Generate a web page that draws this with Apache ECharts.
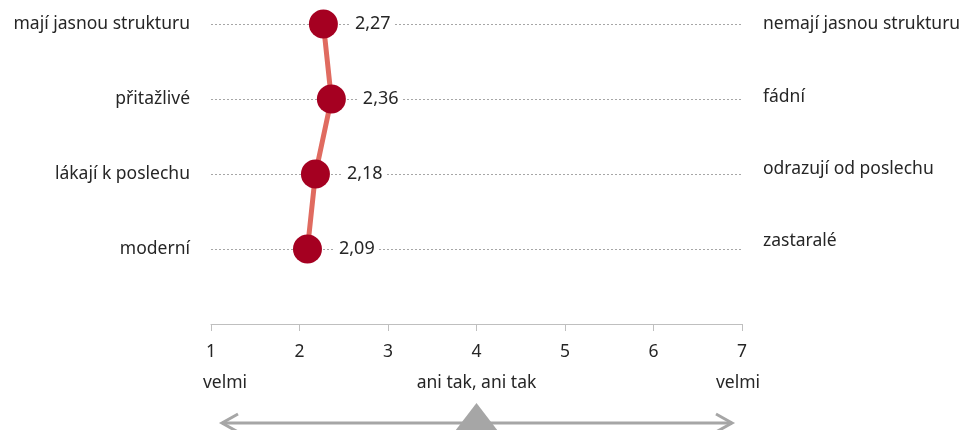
<!DOCTYPE html>
<html><head><meta charset="utf-8">
<script src="https://cdn.jsdelivr.net/npm/echarts@6/dist/echarts.min.js"></script>
<style>html,body{margin:0;padding:0;background:#fff}#c{width:971px;height:430px}</style>
</head><body><div id="c"></div>
<script>
const leftLabels = ['mají jasnou strukturu', 'přitažlivé', 'lákají k poslechu', 'moderní'];
const rightLabels = ['nemají jasnou strukturu', 'fádní', 'odrazují od poslechu', 'zastaralé'];
const values = [2.27, 2.36, 2.18, 2.09];
const xTicks = [1, 2, 3, 4, 5, 6, 7];
const scaleNotes = [[1, 'velmi'], [4, 'ani tak, ani tak'], [7, 'velmi']];

const n = leftLabels.length;
const rowVal = i => n - i; // top row = n
const FONT = 'Noto Sans';
const FS = 17.5;
const rightRich = {};
[0, 4, 10, 16].forEach((pb, i) => { rightRich['r' + i] = { padding: [0, 0, pb, 0], fontSize: FS, color: '#262626', fontFamily: FONT }; });
const chart = echarts.init(document.getElementById('c'));
const opt = {
  animation: false,
  textStyle: { fontFamily: FONT },
  grid: { left: 211, right: 229, top: 24, bottom: 106, containLabel: false },
  xAxis: {
    type: 'value', min: 1, max: 7, interval: 1,
    axisLine: { show: true, lineStyle: { color: '#BFBFBF', width: 1 } },
    axisTick: { show: true, inside: false, length: 7, lineStyle: { color: '#BFBFBF' } },
    axisLabel: { margin: 19, fontSize: FS, color: '#262626', fontFamily: FONT },
    splitLine: { show: false }
  },
  yAxis: [{
    type: 'value', min: 0, max: n, interval: 1, position: 'left',
    axisLine: { show: false }, axisTick: { show: false },
    axisLabel: { margin: 21, fontSize: FS, color: '#262626', fontFamily: FONT,
      formatter: v => (v >= 1 ? leftLabels[n - v] : '') },
    splitLine: { show: true, lineStyle: { type: [2, 2], color: '#A6A6A6', width: 1 } }
  }, {
    type: 'value', min: 0, max: n, interval: 1, position: 'right',
    axisLine: { show: false }, axisTick: { show: false },
    axisLabel: { margin: 21, fontSize: FS, color: '#262626', fontFamily: FONT, align: 'left',
      rich: rightRich,
      formatter: v => (v >= 1 ? '{r' + (n - v) + '|' + rightLabels[n - v] + '}' : '') },
    splitLine: { show: false }
  }],
  series: [{
    type: 'line',
    data: values.map((v, i) => [v, rowVal(i)]),
    clip: false,
    symbol: 'circle', symbolSize: 29,
    itemStyle: { color: '#A50021' },
    lineStyle: { color: '#E06B60', width: 5 },
    z: 5,
    label: {
      show: true, position: 'right', distance: 13,
      fontSize: 18, color: '#262626', fontFamily: FONT,
      backgroundColor: '#fff', padding: [0, 4],
      formatter: p => p.value[0].toFixed(2).replace('.', ',')
    }
  }]
};
chart.setOption(opt);

const px = v => chart.convertToPixel({ xAxisIndex: 0 }, v);
const yAxisLine = chart.convertToPixel({ yAxisIndex: 0 }, 0);
const noteY = yAxisLine + 59;
const arrowY = 423;
const gray = '#A6A6A6';
const graphics = scaleNotes.map(([v, t], i) => ({
  type: 'text',
  x: px(v) + (i === 0 ? 14 : i === scaleNotes.length - 1 ? -4 : 0), y: noteY,
  style: { text: t, font: FS + 'px "' + FONT + '"', fill: '#262626', align: 'center', verticalAlign: 'middle' }
}));
const x1 = px(1) + 11, x2 = px(7) - 10, xm = px(4);
graphics.push({ type: 'polyline', shape: { points: [[x1, arrowY], [x2, arrowY]] }, style: { stroke: gray, lineWidth: 3 } });
graphics.push({ type: 'polyline', shape: { points: [[x1 + 16, arrowY - 9], [x1, arrowY], [x1 + 16, arrowY + 9]] }, style: { stroke: gray, lineWidth: 3, fill: null } });
graphics.push({ type: 'polyline', shape: { points: [[x2 - 16, arrowY - 9], [x2, arrowY], [x2 - 16, arrowY + 9]] }, style: { stroke: gray, lineWidth: 3, fill: null } });
graphics.push({ type: 'polygon', shape: { points: [[xm, 403], [xm - 23, 433], [xm + 23, 433]] }, style: { fill: gray } });
chart.setOption({ graphic: graphics });
</script></body></html>
